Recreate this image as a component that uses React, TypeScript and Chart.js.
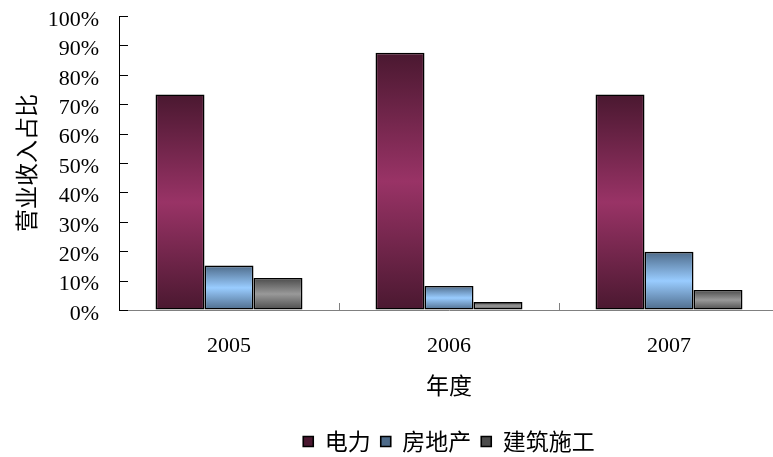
import React, { useEffect, useRef } from "react";
import { Chart, registerables } from "chart.js";

Chart.register(...registerables);

// ---- data ----
const years = ["2005", "2006", "2007"];
const seriesNames = ["电力", "房地产", "建筑施工"];
const powerShare = [73.3, 87.5, 73.3];
const realEstateShare = [15.1, 8.2, 19.8];
const constructionShare = [10.9, 2.7, 6.8];
const yTickValues = [0, 10, 20, 30, 40, 50, 60, 70, 80, 90, 100];
const yAxisTitle = "营业收入占比";
const xAxisTitle = "年度";

// ---- styles ----
const seriesDark = ["#4a1830", "#4e6b8a", "#4b4b4b"];
const seriesLight = ["#993366", "#99ccff", "#999999"];

const CANVAS_W = 899;
const CANVAS_H = 463;
const numFont = '"Liberation Serif", "Noto Sans CJK SC", serif';
const cjkFont = '"Noto Sans CJK SC", "Liberation Serif", sans-serif';

function gradientFor(i: number) {
  return (ctx: any) => {
    const chart = ctx.chart;
    if (ctx.type !== "data" || !chart.chartArea) return seriesLight[i];
    const y = chart.scales.y;
    const top = y.getPixelForValue(ctx.raw as number);
    const bot = y.getPixelForValue(0);
    if (!isFinite(top) || !isFinite(bot) || top === bot) return seriesLight[i];
    const g = chart.ctx.createLinearGradient(0, top, 0, bot);
    g.addColorStop(0, seriesDark[i]);
    g.addColorStop(0.5, seriesLight[i]);
    g.addColorStop(1, seriesDark[i]);
    return g;
  };
}

const tickPlugin = {
  id: "innerTicks",
  afterDatasetsDraw(chart: any) {
    const { ctx, scales } = chart;
    const x = scales.x;
    const y = scales.y;
    ctx.save();
    ctx.lineWidth = 1;
    ctx.strokeStyle = "#000";
    ctx.beginPath();
    for (const t of y.ticks) {
      const py = Math.round(y.getPixelForValue(t.value)) + 0.5;
      ctx.moveTo(x.left, py);
      ctx.lineTo(x.left + 9, py);
    }
    ctx.stroke();
    ctx.strokeStyle = "#808080";
    ctx.beginPath();
    const base = y.getPixelForValue(0);
    for (let i = 1; i <= years.length; i++) {
      const px = Math.round(x.getPixelForValue(i - 0.5)) + 0.5;
      ctx.moveTo(px, base);
      ctx.lineTo(px, base - 7);
    }
    ctx.stroke();
    ctx.restore();
  },
};

export default function App() {
  const ref = useRef<HTMLCanvasElement | null>(null);

  useEffect(() => {
    if (!ref.current) return;
    const values = [powerShare, realEstateShare, constructionShare];
    const chart = new Chart(ref.current, {
      type: "bar",
      data: {
        labels: years,
        datasets: seriesNames.map((name, i) => ({
          label: name,
          data: values[i],
          backgroundColor: gradientFor(i),
          borderColor: "#000",
          borderWidth: 1.6,
          borderSkipped: false,
          categoryPercentage: 0.668,
          barPercentage: 1,
        })),
      },
      options: {
        responsive: false,
        animation: false,
        devicePixelRatio: 1,
        layout: { padding: { left: 0, right: 120, top: 16, bottom: 0 } },
        plugins: {
          legend: {
            position: "bottom",
            fullSize: false,
            labels: {
              boxWidth: 10,
              boxHeight: 10,
              padding: 10,
              color: "#000",
              font: { family: cjkFont, size: 23 },
            },
          },
          tooltip: { enabled: false },
        },
        scales: {
          x: {
            grid: { display: false, drawTicks: false },
            border: { display: true, color: "#808080", width: 1 },
            ticks: { padding: 23, color: "#000", font: { family: numFont, size: 22 } },
            title: {
              display: true,
              text: xAxisTitle,
              color: "#000",
              font: { family: cjkFont, size: 23 },
              padding: { top: 0, bottom: 21 },
            },
            afterFit: (s: any) => {
              s.height = 110;
            },
          },
          y: {
            min: 0,
            max: 100,
            afterBuildTicks: (s: any) => {
              s.ticks = yTickValues.map((v) => ({ value: v }));
            },
            grid: {
              display: true,
              drawOnChartArea: false,
              drawTicks: true,
              tickLength: 20,
              tickColor: "rgba(0,0,0,0)",
            },
            border: { display: true, color: "#000", width: 1 },
            ticks: {
              padding: 0,
              autoSkip: false,
              color: "#000",
              labelOffset: 4,
              font: { family: numFont, size: 22 },
              callback: (v: any) => v + "%",
            },
            title: {
              display: true,
              text: yAxisTitle,
              color: "#000",
              font: { family: cjkFont, size: 23 },
              padding: { top: 12, bottom: 0 },
            },
            afterFit: (s: any) => {
              s.width = 119;
            },
          },
        },
      },
      plugins: [tickPlugin],
    });
    return () => chart.destroy();
  }, []);

  return (
    <div
      style={{
        position: "fixed",
        left: 0,
        top: 0,
        width: 773,
        height: 457,
        overflow: "hidden",
        background: "#fff",
      }}
    >
      <canvas ref={ref} width={CANVAS_W} height={CANVAS_H} style={{ display: "block" }} />
    </div>
  );
}
